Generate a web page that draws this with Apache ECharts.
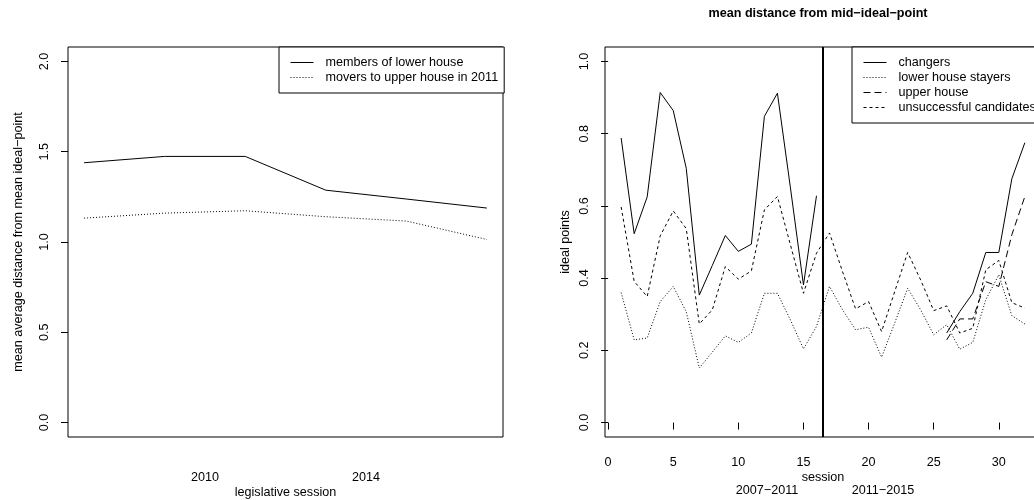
<!DOCTYPE html>
<html>
<head>
<meta charset="utf-8">
<script src="https://cdn.jsdelivr.net/npm/echarts@6/dist/echarts.min.js"></script>
<style>
  html, body { margin: 0; padding: 0; background: #fff; }
  #chart { width: 1034px; height: 500px; }
</style>
</head>
<body>
<div id="chart"></div>
<script>
// ---- left panel: mean average distance by legislative session ----
const legSessions = [1, 2, 3, 4, 5, 6];
const lowerHouseMembers = [1.439, 1.474, 1.474, 1.287, 1.238, 1.188];
const moversUpper2011 = [1.132, 1.160, 1.173, 1.140, 1.116, 1.014];
const legTickPos = [2.5, 4.5];
const legTickLabels = ['2010', '2014'];
const leftYTicks = [0, 0.5, 1, 1.5, 2];

// ---- right panel: ideal points by session ----
const sessions = [1, 2, 3, 4, 5, 6, 7, 8, 9, 10, 11, 12, 13, 14, 15, 16,
                  17, 18, 19, 20, 21, 22, 23, 24, 25, 26, 27, 28, 29, 30, 31, 32];
const changers = [0.788, 0.523, 0.625, 0.914, 0.864, 0.704, 0.353, 0.435, 0.518, 0.474, 0.494, 0.848, 0.912, 0.650, 0.381, 0.628,
                  null, null, null, null, null, null, null, null, null,
                  0.248, 0.307, 0.358, 0.471, 0.471, 0.675, 0.775];
const lowerStayers = [0.360, 0.229, 0.234, 0.335, 0.377, 0.307, 0.151, 0.195, 0.240, 0.222, 0.248, 0.358, 0.358, 0.284, 0.204, 0.266,
                      0.377, 0.312, 0.257, 0.264, 0.181, 0.275, 0.372, 0.312, 0.243, 0.271, 0.203, 0.222, 0.340, 0.409, 0.296, 0.273];
const upperHouse = [null, null, null, null, null, null, null, null, null, null, null, null, null, null, null, null,
                    null, null, null, null, null, null, null, null, null,
                    0.229, 0.287, 0.287, 0.390, 0.377, 0.520, 0.626];
const unsuccessful = [0.597, 0.391, 0.349, 0.517, 0.586, 0.537, 0.273, 0.312, 0.432, 0.397, 0.420, 0.589, 0.626, 0.492, 0.358, 0.469,
                      0.525, 0.418, 0.315, 0.335, 0.252, 0.362, 0.471, 0.395, 0.310, 0.323, 0.248, 0.261, 0.423, 0.449, 0.332, 0.317];
const sessionTicks = [0, 5, 10, 15, 20, 25, 30];
const rightYTicks = [0, 0.2, 0.4, 0.6, 0.8, 1.0];
const termBreak = 16.5;
const termLabels = ['2007−2011', '2011−2015'];

const FONT = "'Liberation Sans', Arial, Helvetica, sans-serif";
const FS = 12.6;
const pairs = (xs, ys) => xs.map((x, i) => [x, ys[i]]);

const chart = echarts.init(document.getElementById('chart'), null, { renderer: 'canvas' });

const txt = { fontFamily: FONT, fontSize: FS, color: '#000' };

function lineSeries(name, xi, yi, data, dash, extra) {
  return Object.assign({
    name: name,
    type: 'line',
    xAxisIndex: xi,
    yAxisIndex: yi,
    data: data,
    symbol: 'none',
    connectNulls: false,
    animation: false,
    lineStyle: { color: '#000', width: 1, type: dash },
    itemStyle: { color: '#000' }
  }, extra || {});
}

const legendBase = {
  orient: 'vertical', selectedMode: false,
  itemWidth: 23, itemHeight: 14, itemGap: 0,
  borderColor: '#000', borderWidth: 1, backgroundColor: '#fff',
  itemStyle: { opacity: 0 },
  lineStyle: { width: 1, color: 'inherit', type: 'inherit' },
  textStyle: Object.assign({ lineHeight: 15, padding: [0, 0, 0, 7] }, txt)
};

const option = {
  backgroundColor: '#fff',
  animation: false,
  textStyle: txt,
  grid: [
    { left: 68, top: 47, width: 435, height: 390, outerBoundsMode: 'none', containLabel: false,
      show: true, borderColor: '#000', borderWidth: 1, backgroundColor: 'transparent' },
    { left: 605, top: 47, width: 436, height: 390, outerBoundsMode: 'none', containLabel: false,
      show: true, borderColor: '#000', borderWidth: 1, backgroundColor: 'transparent' }
  ],
  xAxis: [
    {
      gridIndex: 0, type: 'value', min: 0.8, max: 6.2,
      axisLine: { show: false }, splitLine: { show: false },
      axisTick: { show: false },
      axisLabel: Object.assign({
        customValues: legTickPos, margin: 34,
        formatter: v => legTickLabels[legTickPos.indexOf(v)] || ''
      }, txt),
      name: 'legislative session', nameLocation: 'middle', nameGap: 49, nameMoveOverlap: false,
      nameTextStyle: txt
    },
    {
      gridIndex: 1, type: 'value', min: -0.24, max: 33.24,
      axisLine: { show: false }, splitLine: { show: false },
      axisTick: { show: true, length: 7, customValues: sessionTicks, lineStyle: { color: '#000', width: 1 } },
      axisLabel: Object.assign({ customValues: sessionTicks, margin: 19 }, txt),
      name: 'session', nameLocation: 'middle', nameGap: 34, nameMoveOverlap: false,
      nameTextStyle: txt
    }
  ],
  yAxis: [
    {
      gridIndex: 0, type: 'value', min: -0.08, max: 2.08,
      axisLine: { show: false }, splitLine: { show: false },
      axisTick: { show: true, length: 7, customValues: leftYTicks, lineStyle: { color: '#000', width: 1 } },
      axisLabel: Object.assign({
        customValues: leftYTicks, rotate: 90, margin: 17,
        formatter: v => v.toFixed(1)
      }, txt),
      name: 'mean average distance from mean ideal−point', nameLocation: 'middle', nameGap: 43, nameMoveOverlap: false,
      nameTextStyle: txt
    },
    {
      gridIndex: 1, type: 'value', min: -0.04, max: 1.04,
      axisLine: { show: false }, splitLine: { show: false },
      axisTick: { show: true, length: 7, customValues: rightYTicks, lineStyle: { color: '#000', width: 1 } },
      axisLabel: Object.assign({
        customValues: rightYTicks, rotate: 90, margin: 14,
        formatter: v => v.toFixed(1)
      }, txt),
      name: 'ideal points', nameLocation: 'middle', nameGap: 33, nameMoveOverlap: false,
      nameTextStyle: txt
    }
  ],
  legend: [
    Object.assign({}, legendBase, {
      left: 279, top: 47, padding: [8, 6, 8, 11],
      data: ['members of lower house', 'movers to upper house in 2011']
    }),
    Object.assign({}, legendBase, {
      left: 852, top: 47, padding: [8, 40, 8, 11],
      data: ['changers', 'lower house stayers', 'upper house', 'unsuccessful candidates']
    })
  ],
  graphic: [
    {
      type: 'text', x: 818, y: 14,
      style: { text: 'mean distance from mid−ideal−point', font: 'bold ' + FS + 'px ' + FONT, fill: '#000', align: 'center', verticalAlign: 'middle' }
    },
    {
      type: 'text', x: 767, y: 491,
      style: { text: termLabels[0], font: FS + 'px ' + FONT, fill: '#000', align: 'center', verticalAlign: 'middle' }
    },
    {
      type: 'text', x: 883, y: 491,
      style: { text: termLabels[1], font: FS + 'px ' + FONT, fill: '#000', align: 'center', verticalAlign: 'middle' }
    }
  ],
  series: [
    lineSeries('members of lower house', 0, 0, pairs(legSessions, lowerHouseMembers), 'solid'),
    lineSeries('movers to upper house in 2011', 0, 0, pairs(legSessions, moversUpper2011), [1, 2]),
    lineSeries('changers', 1, 1, pairs(sessions, changers), 'solid', {
      markLine: {
        silent: true, symbol: ['none', 'none'], animation: false,
        label: { show: false },
        lineStyle: { color: '#000', width: 2, type: 'solid' },
        data: [{ xAxis: termBreak }]
      }
    }),
    lineSeries('lower house stayers', 1, 1, pairs(sessions, lowerStayers), [1, 2]),
    lineSeries('upper house', 1, 1, pairs(sessions, upperHouse), [7, 4]),
    lineSeries('unsuccessful candidates', 1, 1, pairs(sessions, unsuccessful), [3, 3])
  ]
};

chart.setOption(option);
</script>
</body>
</html>
